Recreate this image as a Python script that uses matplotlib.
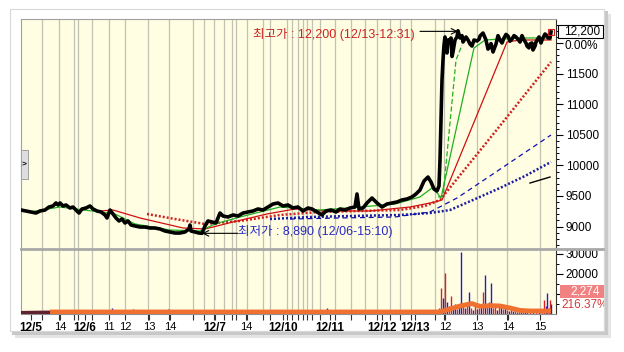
import matplotlib
matplotlib.use("Agg")
import matplotlib.pyplot as plt
from matplotlib.patches import Rectangle

plt.rcParams['font.family'] = ['Liberation Sans', 'Noto Sans CJK KR', 'DejaVu Sans']

# price (time slot, price)
price_x = [0, 5, 10, 15, 19, 24, 28, 32, 35, 37, 39, 42, 45, 49, 52, 55, 58, 61, 65, 69,
           72, 76, 80, 84, 86, 89, 92, 95, 98, 101, 104, 107, 110, 114, 119, 124, 129, 134,
           139, 144, 149, 154, 159, 164, 168, 169, 170, 174, 178, 181, 184, 187, 191, 195,
           199, 202, 207, 212, 217, 222, 227, 232, 237, 242, 247, 252, 257, 262, 267, 272,
           277, 282, 287, 291, 296, 301, 305, 310, 315, 319, 324, 329, 334, 336, 338, 342,
           346, 351, 356, 361, 366, 371, 376, 381, 386, 391, 395, 399, 403, 407, 410, 413,
           416, 418,
           419, 420, 421, 422, 423, 424, 425, 426, 427, 428, 430, 431, 432, 434, 436, 437,
           439, 441, 442, 445, 447, 449, 451, 453, 456, 458, 459, 462, 465, 467, 469, 470,
           472, 475, 477, 479, 481, 483, 485, 487, 489, 491, 493, 495, 497, 499, 501, 503,
           505, 506, 508, 509, 511, 512, 514, 515, 518, 520, 521, 524, 526, 527, 529, 530]
price_y = [9271, 9255, 9239, 9222, 9255, 9271, 9320, 9337, 9386, 9353, 9386, 9337, 9353,
           9304, 9320, 9271, 9222, 9288, 9304, 9337, 9288, 9255, 9239, 9190, 9141, 9271,
           9206, 9141, 9092, 9124, 9059, 9092, 9026, 9010, 8993, 8993, 8977, 8977, 8961,
           8928, 8912, 8895, 8895, 8912, 8961, 9026, 8928, 8912, 8895, 8890, 9010, 9092,
           9075, 9059, 9222, 9173, 9157, 9190, 9173, 9222, 9239, 9255, 9288, 9271, 9320,
           9369, 9386, 9337, 9353, 9304, 9320, 9255, 9304, 9288, 9239, 9190, 9255, 9271,
           9239, 9288, 9271, 9304, 9320, 9533, 9288, 9304, 9386, 9467, 9386, 9320, 9369,
           9386, 9402, 9435, 9451, 9484, 9533, 9598, 9745, 9810, 9729, 9614, 9582, 9663,
           10088, 10742, 11395, 11722, 11967, 12098, 11900, 11837, 12050, 12016, 12082, 11780,
           11853, 12049, 12100, 12200, 12082, 12120, 12016, 12098, 12050, 11984, 11950, 12049,
           12033, 12060, 12114, 12163, 12049, 11900, 11951, 11990, 11853, 11984, 12120, 12049,
           12000, 12082, 12140, 12114, 12030, 12065, 12120, 12098, 12060, 12016, 12120, 12049,
           12000, 11951, 11920, 11984, 12000, 11886, 11950, 12016, 12098, 12000, 12049, 12147,
           12120, 12082, 12080, 12180]

ma_green_x = [9, 39, 79, 94, 114, 149, 179, 194, 219, 259, 299, 339, 374, 399, 411, 417, 420, 453, 464, 499, 530]
ma_green_y = [9239, 9320, 9239, 9206, 9043, 8944, 8928, 9043, 9157, 9320, 9271, 9320, 9369, 9484, 9631, 9533, 9467, 11918, 12049, 12082, 12082]
ma_green2_x = [417, 422, 435, 441]
ma_green2_y = [9483, 9500, 11722, 11967]
ma_red_x = [79, 92, 119, 162, 184, 212, 246, 274, 309, 349, 389, 414, 421, 486, 499, 530]
ma_red_y = [9255, 9271, 9141, 8977, 8961, 9075, 9206, 9288, 9255, 9255, 9320, 9402, 9435, 12016, 12049, 12049]
ma_red2_x = [126, 154, 184, 219, 259, 299, 339, 379, 404, 419, 474, 530]
ma_red2_y = [9206, 9124, 9043, 9092, 9190, 9239, 9255, 9271, 9337, 9435, 10546, 11690]
ma_blue_x = [269, 319, 374, 409, 436, 469, 530]
ma_blue_y = [9124, 9141, 9157, 9239, 9467, 9827, 10497]
ma_blue2_x = [249, 289, 329, 379, 409, 429, 452, 479, 504, 530]
ma_blue2_y = [9124, 9157, 9173, 9190, 9222, 9271, 9435, 9631, 9827, 10056]
trend_x = [509, 529]
trend_y = [9712, 9810]

# volume bars
vol_x = [91, 112, 147, 192, 279, 306,
         418, 420, 422, 424, 426, 428, 430, 432, 434, 436, 438, 440, 442, 444, 446, 448,
         450, 452, 454, 456, 458, 460, 462, 464, 466, 468, 470, 472, 474, 476, 478, 480,
         482, 484, 486, 488, 490, 492, 494, 496, 498, 500, 502, 504, 506, 509, 512, 515,
         518, 521, 523, 525, 526, 528, 529, 530]
vol_y = [3000, 2500, 2500, 1500, 2000, 3000,
         3000, 13000, 8000, 20500, 6000, 4000, 9000, 3000, 5000, 2500, 4000, 31000, 5000,
         3000, 6000, 11000, 3000, 2000, 4000, 2500, 3000, 5000, 11000, 19500, 4000, 6000,
         15500, 3000, 5000, 2000, 3500, 4000, 2500, 3000, 2000, 1500, 2500, 1500, 2000,
         1000, 1500, 1000, 1500, 1000, 2000, 1000, 1500, 2000, 1000, 2500, 7000, 4000,
         10500, 3000, 7000, 5000]
vol_up = ['b', 'b', 'b', 'b', 'b', 'b',
          'r', 'r', 'b', 'r', 'b', 'r', 'r', 'b', 'b', 'r', 'b', 'b', 'r', 'b', 'r', 'b',
          'r', 'b', 'r', 'b', 'r', 'b', 'r', 'b', 'r', 'b', 'b', 'r', 'r', 'b', 'r', 'b',
          'r', 'b', 'r', 'b', 'r', 'b', 'r', 'b', 'r', 'b', 'r', 'b', 'b', 'r', 'b', 'r',
          'b', 'r', 'r', 'b', 'b', 'r', 'r', 'b']
vma_x = [29, 419, 429, 439, 451, 459, 469, 479, 489, 499, 509, 530]
vma_y = [1000, 1000, 2500, 4000, 5200, 3800, 4200, 4000, 3000, 1800, 1500, 1500]
vma0_x = [0, 29]
vma0_y = [500, 700]

grid_x = [21, 38, 53, 57, 71, 88, 104, 127, 148, 172, 183, 193, 203, 211, 215, 226, 242,
          249, 266, 271, 277, 282, 286, 291, 299, 314, 330, 344, 356, 369, 379, 390, 414,
          423, 456, 486, 519]
lab_x = [10, 39, 64, 88, 104, 128, 149, 194, 225, 262, 309, 361, 394, 424, 456, 487, 519]
lab_t = ['12/5', '14', '12/6', '11', '12', '13', '14', '12/7', '14', '12/10', '12/11',
         '12/12', '12/13', '12', '13', '14', '15']

W, H = 624, 352
fig = plt.figure(figsize=(W / 100, H / 100), dpi=100)
fig.patch.set_facecolor('white')


def fr(x, y, w, h):
    return [x / W, 1 - (y + h) / H, w / W, h / H]


def box(x, y, w, h, **kw):
    r = Rectangle((x / W, 1 - (y + h) / H), w / W, h / H, transform=fig.transFigure, **kw)
    fig.add_artist(r)
    return r


# outer panel with shadow
box(15, 14, 596, 324, facecolor='#e4e4e4', edgecolor='none', zorder=-3)
box(12, 11, 596, 324, facecolor='#c8c8c8', edgecolor='none', zorder=-2.5)
box(10, 9, 594, 322, facecolor='white', edgecolor='#d8d8d8', lw=0.8, zorder=-2)

ax = fig.add_axes(fr(21, 19, 535, 230))
axv = fig.add_axes(fr(21, 249, 535, 65), sharex=ax)
bg = '#fffee2'
for a in (ax, axv):
    a.set_facecolor(bg)
    for gx in grid_x:
        a.axvline(gx, color='#c2c2b2', lw=0.9, zorder=0.5)
    a.yaxis.tick_right()
    a.spines['left'].set_color('#a0a0a0')
    a.spines['top'].set_color('#a0a0a0')
    a.spines['right'].set_color('#303030')
    a.tick_params(axis='y', which='major', length=5, width=0.8, labelsize=8.5, pad=2)
    a.tick_params(axis='y', which='minor', length=2.5, width=0.7)

ax.spines['bottom'].set_visible(False)
axv.spines['top'].set_visible(False)
axv.spines['bottom'].set_color('#909090')

ax.plot(ma_red2_x, ma_red2_y, color='#d02020', lw=1.8, ls=(0, (0.8, 0.8)), zorder=2)
ax.plot(ma_blue2_x, ma_blue2_y, color='#1c1ca0', lw=1.8, ls=(0, (0.8, 0.8)), zorder=2)
ax.plot(ma_blue_x, ma_blue_y, color='#1010b0', lw=0.9, ls=(0, (4, 3)), zorder=2)
ax.plot(ma_red_x, ma_red_y, color='#d01010', lw=0.9, zorder=2)
ax.plot(ma_green2_x, ma_green2_y, color='#20b020', lw=0.9, ls=(0, (4, 2)), zorder=2)
ax.plot(ma_green_x, ma_green_y, color='#20b020', lw=0.9, zorder=2)
ax.plot(trend_x, trend_y, color='black', lw=1.0, zorder=2)
ax.plot(price_x, price_y, color='black', lw=2.6, solid_joinstyle='round', zorder=3)
ax.plot(price_x[-1:], price_y[-1:], marker='s', ms=4, mfc='none', mec='#d02020', mew=0.8, zorder=4)

ax.set_xlim(0, 535)
ax.set_ylim(8634, 12392)
ax.set_yticks([9000, 9500, 10000, 10500, 11000, 11500, 12000])
ax.set_yticklabels(['9000', '9500', '10000', '10500', '11000', '11500', ''])
ax.set_yticks(list(range(8700, 12400, 100)), minor=True)
ax.tick_params(axis='x', which='both', length=0, labelbottom=False)

# high / low annotations
ax.text(232, 12131, '최고가 : 12,200 (12/13-12:31)', color='#cc2424', fontsize=9, va='center', ha='left')
ax.annotate('', xy=(437, 12190), xytext=(399, 12190),
            arrowprops=dict(arrowstyle='->', color='black', lw=0.8, shrinkA=0, shrinkB=0))
ax.text(217, 8912, '최저가 : 8,890 (12/06-15:10)', color='#2a2ac4', fontsize=9, va='center', ha='left')
ax.annotate('', xy=(181, 8890), xytext=(217, 8890),
            arrowprops=dict(arrowstyle='->', color='black', lw=0.8, shrinkA=0, shrinkB=0))

# volume
cols = {'r': '#e02020', 'b': '#2020c8'}
axv.vlines(vol_x, 0, vol_y, colors=[cols[c] for c in vol_up], lw=1.0, zorder=2)
axv.plot(vma0_x, vma0_y, color='#602030', lw=3, solid_capstyle='butt', zorder=3)
axv.plot(vma_x, vma_y, color='#f07030', lw=3.5, solid_capstyle='butt', zorder=3)
axv.set_ylim(0, 32500)
axv.set_yticks([10000, 20000, 30000])
axv.set_yticklabels(['', '20000', '30000'])
axv.set_yticks([5000, 15000, 25000], minor=True)

axv.set_xticks(lab_x)
axv.set_xticklabels(lab_t)
axv.set_xticks(grid_x, minor=True)
axv.tick_params(axis='x', which='both', length=4, width=0.8, color='#303030', pad=1.5)
for t in axv.get_xticklabels():
    if '/' in t.get_text():
        t.set_fontweight('bold')
        t.set_fontsize(8.5)
    else:
        t.set_fontsize(8)

# panel separator
fig.add_artist(plt.Line2D([21 / W, 603 / W], [1 - 249 / H] * 2, transform=fig.transFigure,
                          color='#a8a8a8', lw=2, zorder=5))

# right side value boxes
ov = fig.add_axes(fr(557, 9, 47, 322))
ov.set_xlim(557, 604)
ov.set_ylim(331, 9)
ov.axis('off')
ov.patch.set_visible(False)
ov.add_patch(Rectangle((558, 25), 45, 13, facecolor='white', edgecolor='black', lw=0.8))
ov.text(600, 31.5, '12,200', ha='right', va='center', fontsize=8.5)
ov.text(598, 46, '0.00%', ha='right', va='center', fontsize=8.5)
ov.add_patch(Rectangle((560, 285), 44, 13, facecolor='#f28282', edgecolor='none'))
ov.text(600, 291.5, '2,274', ha='right', va='center', fontsize=8.5, color='white')
ov.text(561, 305, '216.37%', ha='left', va='center', fontsize=8.5, color='#d83838', clip_on=True)

# left tab
box(21, 150, 7, 29, facecolor='#dedede', edgecolor='#a0a0a0', lw=0.7, zorder=6)
fig.text(24.5 / W, 1 - 165 / H, '>', fontsize=6, fontweight='bold', ha='center', va='center', zorder=7)

fig.savefig('out.png', dpi=100)
